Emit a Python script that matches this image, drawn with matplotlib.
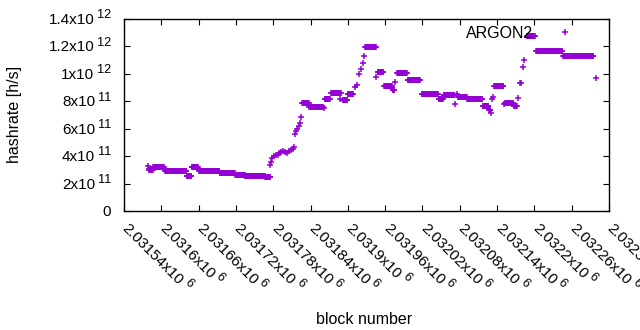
import numpy as np
import matplotlib
matplotlib.use("Agg")
import matplotlib.pyplot as plt
from matplotlib.transforms import offset_copy

plt.rcParams['font.family'] = ['Liberation Sans', 'DejaVu Sans']

BASE_BLOCK = 2031540
SCALE = 1e11

# plateau runs: block offset start, end (inclusive), hashrate (x1e11)
run_start = [41, 47, 66, 101, 109, 121, 154, 179, 195, 227, 287, 298, 323, 333, 352, 360,
             388, 408, 418, 432, 439, 456, 479, 506, 514, 537, 552, 561, 577, 587, 595,
             613, 627, 648, 663, 706]
run_end = [46, 64, 100, 108, 119, 153, 178, 194, 226, 235, 297, 320, 331, 349, 359, 368,
           405, 417, 431, 435, 455, 476, 505, 513, 531, 551, 560, 576, 586, 589, 610,
           626, 632, 661, 705, 755]
run_val = [3.00, 3.19, 2.92, 2.53, 3.19, 2.95, 2.77, 2.65, 2.55, 2.48, 7.88, 7.61, 8.17, 8.58,
           8.09, 8.55, 11.96, 10.14, 9.11, 8.82, 10.04, 9.53, 8.55, 8.17, 8.46, 8.31, 8.17,
           8.15, 7.63, 7.36, 9.09, 7.88, 7.66, 12.76, 11.67, 11.30]

# individual points: block offset, hashrate (x1e11)
point_off = [38, 40, 234, 236, 238, 241, 244, 247, 250, 253, 256, 259, 262, 265, 268, 271,
             273, 275, 277, 279, 281, 283, 285, 322, 347, 371, 374, 378, 381, 384, 386, 406,
             436, 533, 536, 591, 592, 593, 611, 634, 637, 639, 642, 644, 759]
point_val = [3.30, 3.05, 3.35, 3.60, 3.84, 4.00, 4.08, 4.10, 4.20, 4.30, 4.40, 4.30, 4.21,
             4.35, 4.42, 4.55, 4.69, 5.61, 5.80, 6.00, 6.20, 6.44, 6.83, 7.49, 8.15, 9.02,
             9.19, 9.99, 10.33, 10.81, 11.30, 9.75, 9.41, 7.78, 8.55, 7.12, 8.15, 8.30, 7.80,
             8.26, 9.36, 9.30, 10.52, 11.01, 9.68]

xtick_vals = [2031540, 2031600, 2031660, 2031720, 2031780, 2031840, 2031900, 2031960,
              2032020, 2032080, 2032140, 2032200, 2032260, 2032320]
xtick_mant = ['2.03154', '2.0316', '2.03166', '2.03172', '2.03178', '2.03184', '2.0319',
              '2.03196', '2.03202', '2.03208', '2.03214', '2.0322', '2.03226', '2.03232']
xtick_exp = '6'
ytick_vals = [0, 2e11, 4e11, 6e11, 8e11, 1e12, 1.2e12, 1.4e12]
ytick_mant = ['0', '2', '4', '6', '8', '1', '1.2', '1.4']
ytick_exp = ['', '11', '11', '11', '11', '12', '12', '12']

# assemble series
xs, ys = [], []
for s, e, v in zip(run_start, run_end, run_val):
    for b in range(s, e + 1):
        xs.append(BASE_BLOCK + b)
        ys.append(v * SCALE)
for o, v in zip(point_off, point_val):
    xs.append(BASE_BLOCK + o)
    ys.append(v * SCALE)
order = np.argsort(xs, kind='stable')
xs = np.array(xs)[order]
ys = np.array(ys)[order]

FS = 11.0
SUP_FS = 9.2
GAP = 3.0
RAISE = 5.7

fig = plt.figure(figsize=(6.4, 3.3), dpi=100)
ax = fig.add_axes([124/640, 1 - 211/330, (609-124)/640, (211-19)/330])

color = '#9400D3'
ax.plot(xs, ys, linestyle='none', marker='+', markersize=5.0, markeredgewidth=1.1,
        color=color, label='ARGON2')

ax.set_xlim(xtick_vals[0], xtick_vals[-1])
ax.set_ylim(0, 1.4e12)
ax.set_xticks(xtick_vals)
ax.set_yticks(ytick_vals)
ax.tick_params(direction='in', length=4.5, width=0.8, top=True, right=True,
               labelbottom=False, labelleft=False, colors='black')
for sp in ax.spines.values():
    sp.set_linewidth(1.0)

renderer = fig.canvas.get_renderer()


def text_width(s, fs):
    t = fig.text(0, 0, s, fontsize=fs)
    w = t.get_window_extent(renderer).width
    t.remove()
    return w


# y tick labels: mantissa "Mx10" plus raised exponent
ytr = ax.get_yaxis_transform()
for v, m, e in zip(ytick_vals, ytick_mant, ytick_exp):
    if e == '':
        ax.text(0, v, m, fontsize=FS, ha='right', va='baseline',
                transform=offset_copy(ytr, fig=fig, x=-13, y=-5, units='dots'))
        continue
    w_e = text_width(e, SUP_FS)
    ax.text(0, v, e, fontsize=SUP_FS, ha='right', va='baseline',
            transform=offset_copy(ytr, fig=fig, x=-12.5, y=-5 + RAISE, units='dots'))
    ax.text(0, v, m + 'x10', fontsize=FS, ha='right', va='baseline',
            transform=offset_copy(ytr, fig=fig, x=-12.5 - w_e - GAP, y=-5, units='dots'))

# x tick labels: rotated -45 degrees
xtr = ax.get_xaxis_transform()
c = np.cos(np.radians(45))
bx, by = -2.3, -17.8
for v, m in zip(xtick_vals, xtick_mant):
    main = m + 'x10'
    ax.text(v, 0, main, fontsize=FS, ha='left', va='baseline', rotation=-45,
            rotation_mode='anchor', clip_on=False,
            transform=offset_copy(xtr, fig=fig, x=bx, y=by, units='dots'))
    w = text_width(main, FS) + GAP
    # along direction (c, -c), up direction (c, c) in display coords
    ex = bx + w * c + RAISE * c
    ey = by - w * c + RAISE * c
    ax.text(v, 0, xtick_exp, fontsize=SUP_FS, ha='left', va='baseline', rotation=-45,
            rotation_mode='anchor', clip_on=False,
            transform=offset_copy(xtr, fig=fig, x=ex, y=ey, units='dots'))

ax.set_xlabel('block number', fontsize=11.5)
ax.xaxis.set_label_coords((364-124)/485, (211-312)/192)
ax.set_ylabel('hashrate [h/s]', fontsize=11.5)
ax.yaxis.set_label_coords((22-124)/485, (211-114)/192)

ax.legend(loc='upper right', markerfirst=False, frameon=False, fontsize=11.5,
          handlelength=1.0, handletextpad=1.5, borderaxespad=0.2,
          bbox_to_anchor=(1 - 26/485, 1 + 3/192))

fig.savefig('out.png', dpi=100)
